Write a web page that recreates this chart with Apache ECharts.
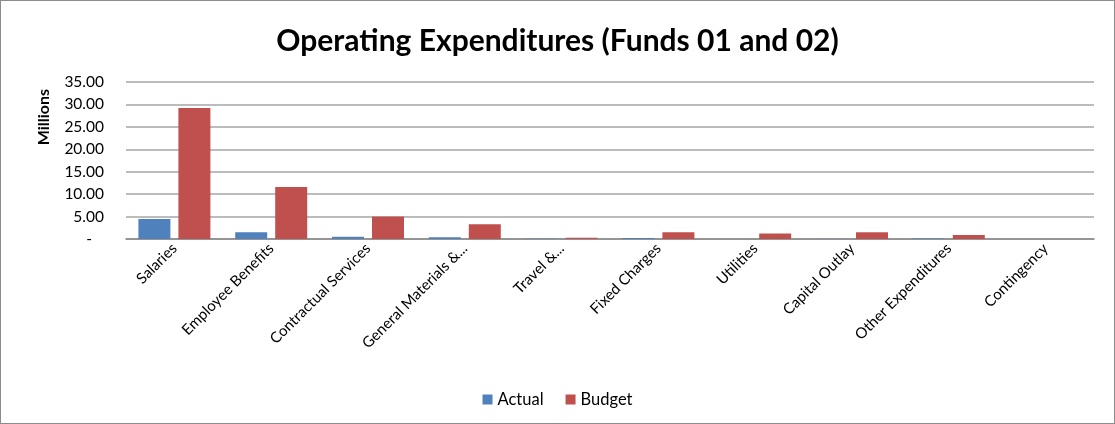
<!DOCTYPE html>
<html><head><meta charset="utf-8">
<script src="https://cdn.jsdelivr.net/npm/echarts@6/dist/echarts.min.js"></script>
<style>
html,body{margin:0;padding:0;background:#fff;}
#c{position:absolute;left:0;top:0;width:1113px;height:422px;border:1px solid #8c8c8c;}
</style></head><body>
<div id="c"></div>
<script>
const categories = ["Salaries","Employee Benefits","Contractual Services","General Materials &...","Travel &...","Fixed Charges","Utilities","Capital Outlay","Other Expenditures","Contingency"];
const actual = [4.45, 1.5, 0.5, 0.4, 0.05, 0.2, 0.02, 0.03, 0.1, 0];
const budget = [29.2, 11.6, 5.0, 3.3, 0.3, 1.5, 1.2, 1.5, 0.9, 0];
const yTicks = {min:0, max:35, interval:5};
const FONT = 'Lato, "Open Sans", sans-serif';
const chart = echarts.init(document.getElementById('c'));
chart.setOption({
  animation:false,
  title:{text:'Operating Expenditures (Funds 01 and 02)', left:'center', top:20,
    textStyle:{fontFamily:FONT, fontSize:30, fontWeight:'bold', color:'#000'}},
  graphic:[{type:'text', left:35, top:88, rotation:Math.PI/2,
    style:{text:'Millions', font:'bold 16px '+FONT, fill:'#000'}}],
  legend:{bottom:10, left:'center', itemWidth:10, itemHeight:10, itemGap:22, icon:'rect',
    textStyle:{fontFamily:FONT, fontSize:16.5, color:'#000'}, data:['Actual','Budget']},
  grid:{left:125, right:20, top:81, bottom:184, containLabel:false},
  xAxis:{type:'category', data:categories,
    axisLine:{lineStyle:{color:'#888', width:1.5}}, axisTick:{show:false},
    axisLabel:{rotate:45, interval:0, fontFamily:FONT, fontSize:15, color:'#000', margin:7}},
  yAxis:{type:'value', min:yTicks.min, max:yTicks.max, interval:yTicks.interval,
    axisLine:{show:false}, axisTick:{show:false},
    splitLine:{lineStyle:{color:'#a6a6a6', width:1.5}},
    axisLabel:{fontFamily:FONT, fontSize:15.5, color:'#000', margin:22,
      formatter:v=> v===0 ? '-   ' : v.toFixed(2)}},
  series:[
    {name:'Actual', type:'bar', data:actual, barWidth:32, barGap:'25%',
      itemStyle:{color:'#4f81bd'}},
    {name:'Budget', type:'bar', data:budget, barWidth:32,
      itemStyle:{color:'#c0504d'}}
  ]
});
</script></body></html>
